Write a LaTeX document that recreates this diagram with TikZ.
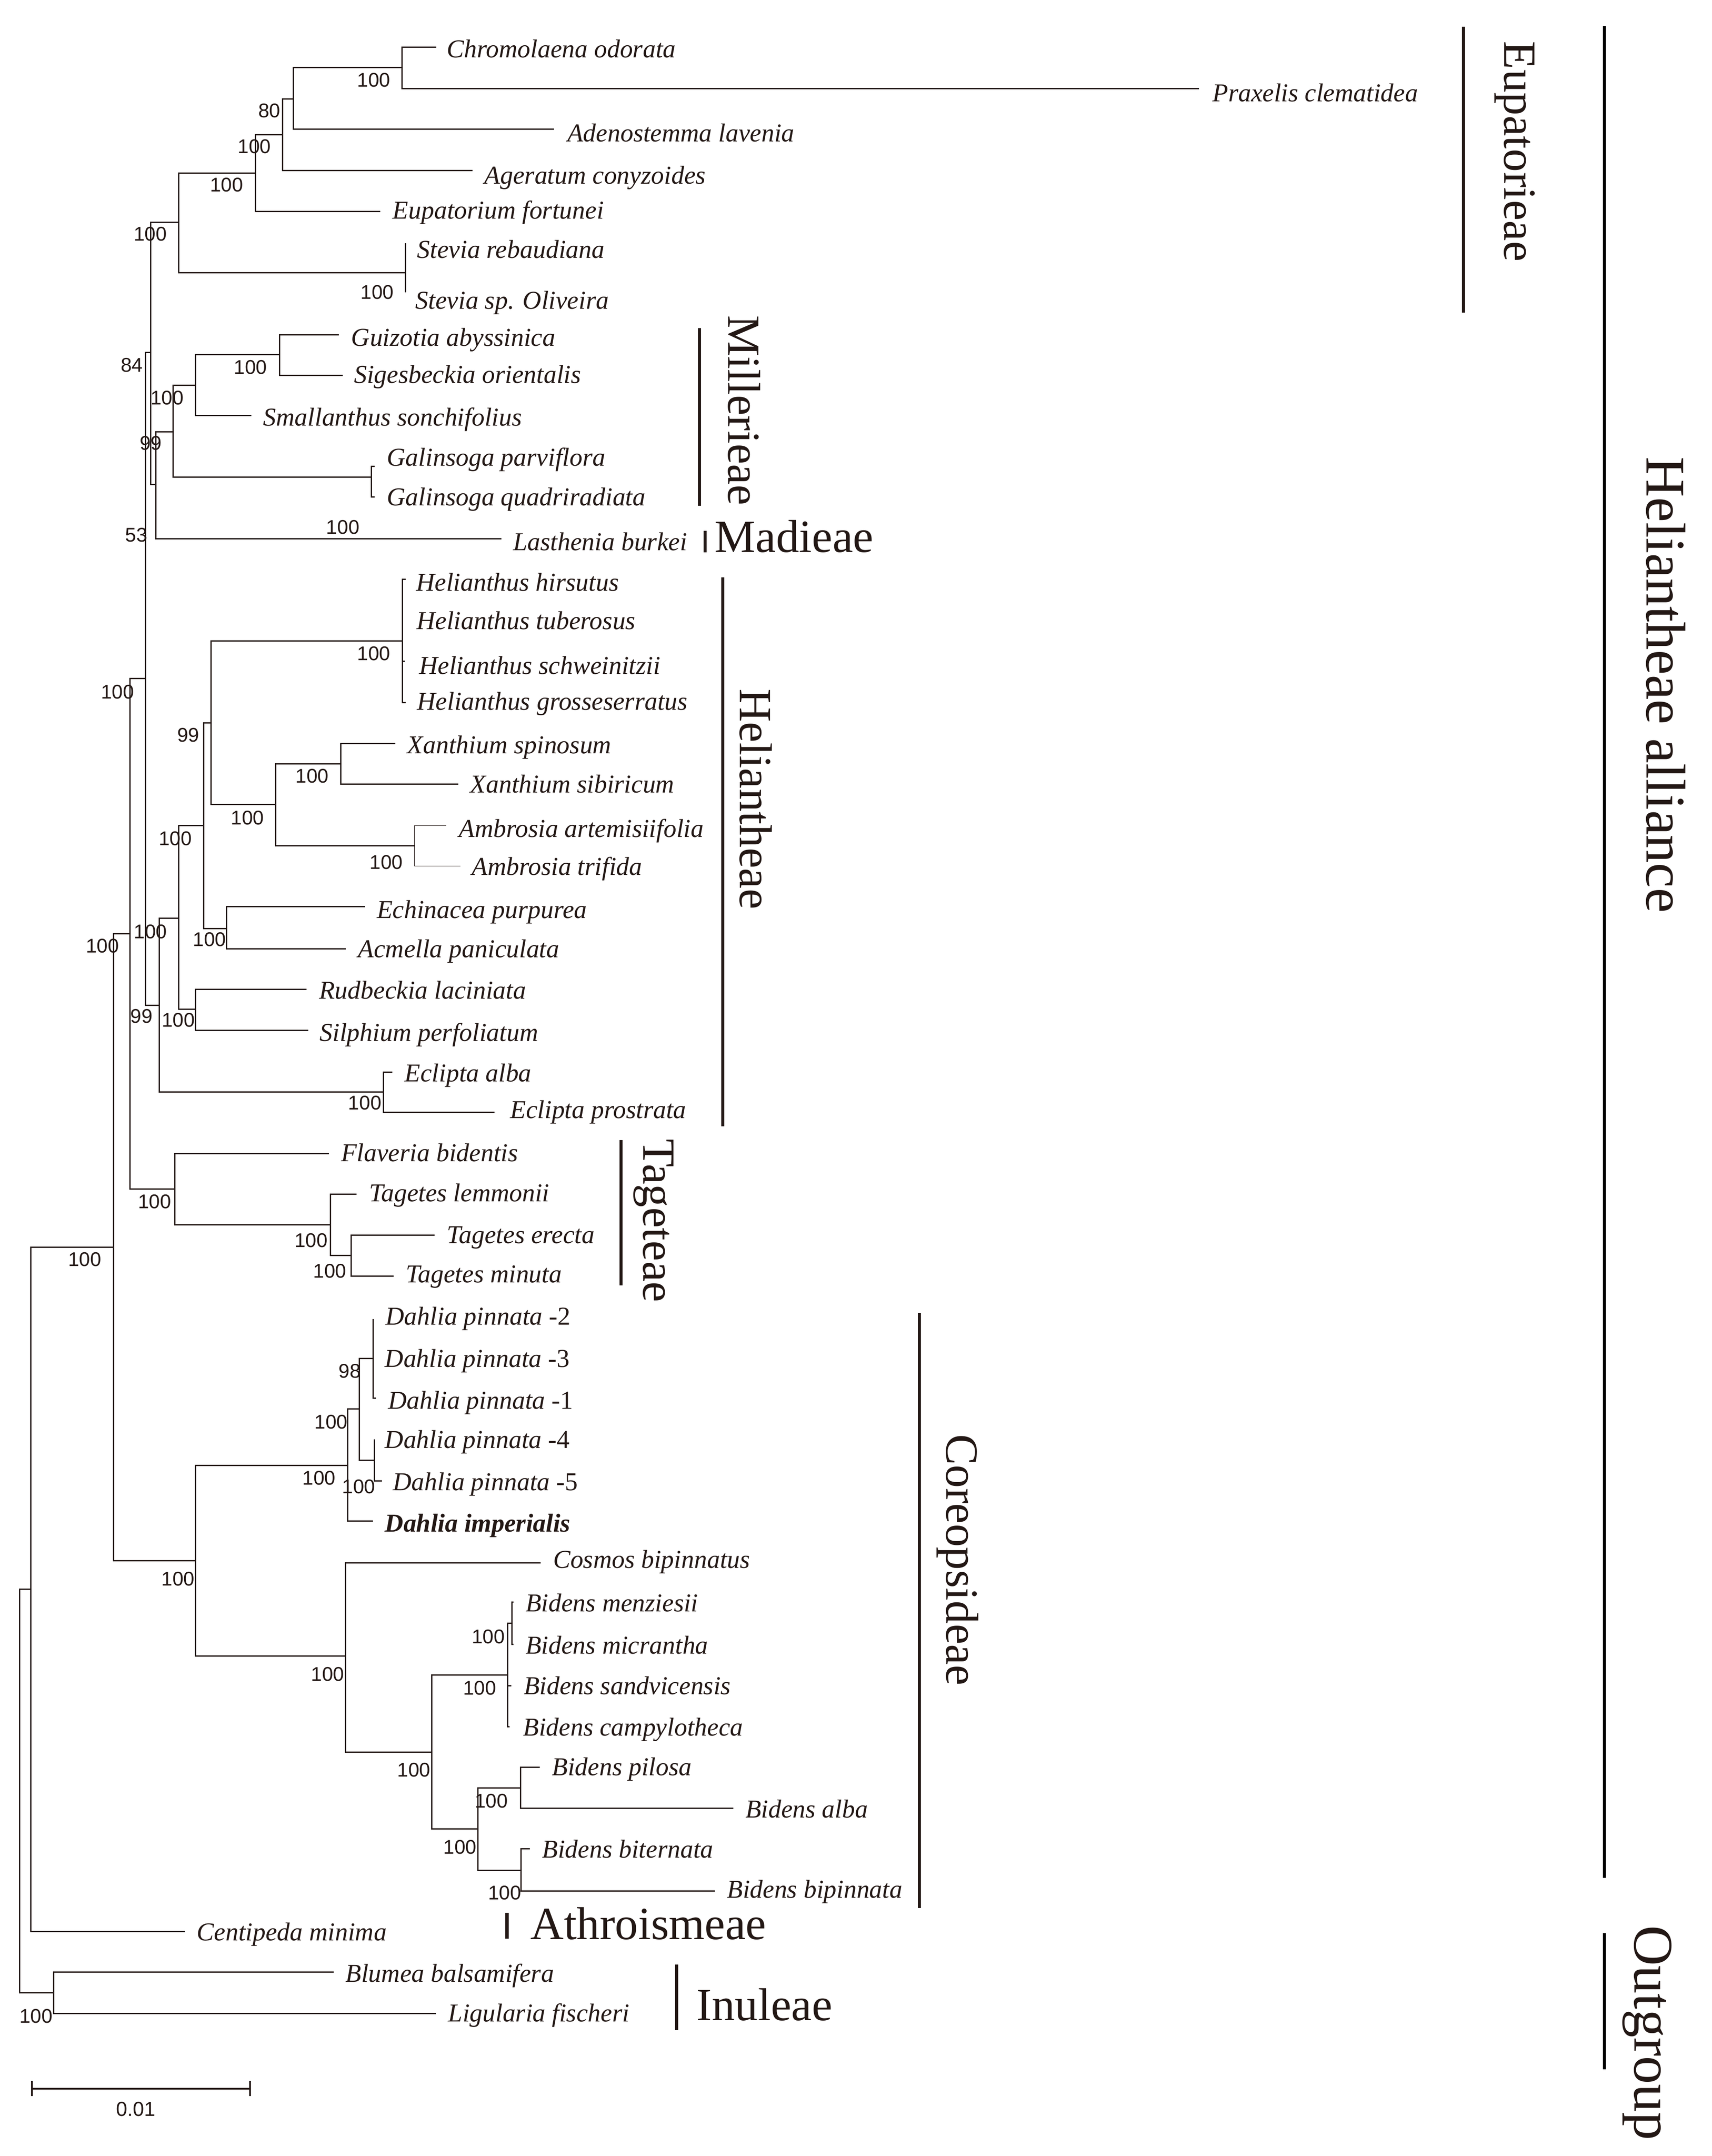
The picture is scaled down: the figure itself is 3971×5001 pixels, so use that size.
\documentclass[tikz,border=0pt]{standalone}
\usepackage{fontspec}
\setmainfont{Liberation Serif}
\setsansfont{Liberation Sans}
\definecolor{tc}{RGB}{35,24,21}
\begin{document}
\begin{tikzpicture}[x=0.1pt,y=-0.1pt,
  br/.style={line width=0.3pt, draw=tc},
  thinbr/.style={line width=0.15pt, draw=tc},
  bar/.style={line width=0.75pt, draw=tc},
  sbar/.style={line width=0.4pt, draw=tc},
  tip/.style={anchor=base west, inner sep=0pt, text=tc, font=\fontsize{5.98pt}{7pt}\selectfont\itshape},
  bs/.style={inner sep=0pt, text=tc, font=\sffamily\fontsize{4.6pt}{5pt}\selectfont},
  clade/.style={anchor=base west, inner sep=0pt, text=tc, font=\fontsize{10.7pt}{12pt}\selectfont},
  vclade/.style={clade, rotate=-90},
  bigclade/.style={anchor=base west, inner sep=0pt, text=tc, rotate=-90, font=\fontsize{13pt}{15pt}\selectfont}]
\useasboundingbox[fill=white] (0,0) rectangle (3971,5001);

% ---------- internal nodes ----------
\coordinate (root) at (46,4152);
\coordinate (X) at (72,3686);
\coordinate (Inu) at (124.5,4622);
\coordinate (HA) at (263.4,2892.7);
\coordinate (B) at (301.7,2166);
\coordinate (C) at (338,1574);
\coordinate (D) at (349.5,818);
\coordinate (Eup) at (414.5,516);
\coordinate (F) at (593,401.6);
\coordinate (G80) at (655.6,312.5);
\coordinate (A) at (680.5,229.6);
\coordinate (CP) at (933,156.5);
\coordinate (Stev) at (941,632.6);
\coordinate (E) at (362,1123.4);
\coordinate (Mill) at (402,1001.5);
\coordinate (S) at (453.4,894);
\coordinate (G) at (648.6,822.4);
\coordinate (Gal) at (862,1107);
\coordinate (H4) at (370,2332);
\coordinate (H3) at (414.5,2129.5);
\coordinate (H2) at (473,1915);
\coordinate (H1) at (490,1676.8);
\coordinate (Hel) at (934,1486.6);
\coordinate (XA) at (640,1866);
\coordinate (Xan) at (791,1771.4);
\coordinate (Amb) at (962,1961.6);
\coordinate (EA) at (525.5,2153.6);
\coordinate (RS) at (453.4,2341);
\coordinate (Ecl) at (889.7,2533);
\coordinate (Tag) at (406,2758.5);
\coordinate (T1) at (767,2841);
\coordinate (T2) at (815,2912.5);
\coordinate (Co) at (454,3620.5);
\coordinate (D0) at (807,3399);
\coordinate (D1) at (833.5,3268);
\coordinate (D2) at (865.4,3151);
\coordinate (D3) at (868.6,3387.5);
\coordinate (K) at (801.7,3841);
\coordinate (L) at (1001.7,4064);
\coordinate (M) at (1177.8,3885.7);
\coordinate (M2) at (1187.7,3765);
\coordinate (N) at (1109,4242.6);
\coordinate (P) at (1208,4146.8);
\coordinate (Q) at (1209,4338.4);

% ---------- tip ends ----------
\coordinate (tChrom) at (1012,109.4);
\coordinate (tPrax) at (2782,205.6);
\coordinate (tAden) at (1285.6,300);
\coordinate (tAger) at (1096.5,395.5);
\coordinate (tEupf) at (882,490.8);
\coordinate (tSteR) at (941,563.8);
\coordinate (tSteO) at (941,678.2);
\coordinate (tGuiz) at (786,777);
\coordinate (tSige) at (795,870.5);
\coordinate (tSmal) at (583.5,964);
\coordinate (tGalP) at (869,1082);
\coordinate (tGalQ) at (869,1152.4);
\coordinate (tLast) at (1163.7,1249.4);
\coordinate (tHelH) at (941,1343.8);
\coordinate (tHelT) at (934,1442);
\coordinate (tHelS) at (939,1534);
\coordinate (tHelG) at (941,1629.5);
\coordinate (tXanSp) at (917,1725);
\coordinate (tXanSi) at (1063,1818.8);
\coordinate (tAmbA) at (1035,1915);
\coordinate (tAmbT) at (1068,2009);
\coordinate (tEchi) at (847,2102.7);
\coordinate (tAcme) at (802,2201);
\coordinate (tRudb) at (711,2294.6);
\coordinate (tSilp) at (715.6,2390);
\coordinate (tEclA) at (910,2486.6);
\coordinate (tEclP) at (1147,2580);
\coordinate (tFlav) at (763,2676);
\coordinate (tTagL) at (827,2769.6);
\coordinate (tTagE) at (1008,2865);
\coordinate (tTagM) at (913,2960);
\coordinate (tDp2) at (865.4,3060);
\coordinate (tDp3) at (867,3151);
\coordinate (tDp1) at (872,3243);
\coordinate (tDp4) at (868.6,3339);
\coordinate (tDp5) at (886.5,3435);
\coordinate (tDimp) at (865.4,3528.6);
\coordinate (tCosm) at (1254,3625);
\coordinate (tBmen) at (1191,3716);
\coordinate (tBmic) at (1191,3814);
\coordinate (tBsan) at (1186,3910);
\coordinate (tBcam) at (1182,4005);
\coordinate (tBpil) at (1252,4099);
\coordinate (tBalb) at (1701,4194.7);
\coordinate (tBbit) at (1229,4288.6);
\coordinate (tBbip) at (1658,4386);
\coordinate (tCent) at (428.6,4480);
\coordinate (tBlum) at (774,4574.6);
\coordinate (tLigu) at (1011,4670);

% ---------- branches ----------
\foreach \p/\c in {root/X, root/Inu, X/HA, X/tCent, Inu/tBlum, Inu/tLigu,
  HA/B, HA/Co, B/C, B/Tag, C/D, C/H4, D/Eup, D/E,
  Eup/F, Eup/Stev, F/G80, F/tEupf, G80/A, G80/tAger, A/CP, A/tAden,
  CP/tChrom, CP/tPrax, Stev/tSteR, Stev/tSteO,
  E/Mill, E/tLast, Mill/S, Mill/Gal, S/G, S/tSmal, G/tGuiz, G/tSige,
  Gal/tGalP, Gal/tGalQ,
  H4/H3, H4/Ecl, H3/H2, H3/RS, H2/H1, H2/EA, H1/Hel, H1/XA, XA/Xan, XA/Amb,
  Hel/tHelH, Hel/tHelT, Hel/tHelS, Hel/tHelG, Xan/tXanSp, Xan/tXanSi,
  EA/tEchi, EA/tAcme, RS/tRudb, RS/tSilp, Ecl/tEclA, Ecl/tEclP,
  Tag/tFlav, Tag/T1, T1/tTagL, T1/T2, T2/tTagE, T2/tTagM,
  Co/D0, Co/K, D0/D1, D0/tDimp, D1/D2, D1/D3, D2/tDp2, D2/tDp3, D2/tDp1,
  D3/tDp4, D3/tDp5,
  K/tCosm, K/L, L/M, L/N, M/M2, M/tBsan, M/tBcam, M2/tBmen, M2/tBmic,
  N/P, N/Q, P/tBpil, P/tBalb, Q/tBbit, Q/tBbip}
  \draw[br] (\p) |- (\c);
\draw[thinbr] (Amb) |- (tAmbA);
\draw[thinbr] (Amb) |- (tAmbT);

% ---------- tip labels ----------
\node[tip] (lChrom) at (1035,134) {Chromolaena odorata};
\node[tip] (lPrax) at (2811,236) {Praxelis clematidea};
\node[tip] (lAden) at (1314.6,329) {Adenostemma lavenia};
\node[tip] (lAger) at (1122,427) {Ageratum conyzoides};
\node[tip] (lEupf) at (909,508) {Eupatorium fortunei};
\node[tip] (lSteR) at (966,598.7) {Stevia rebaudiana};
\node[tip] (lSteO) at (962,717) {Stevia sp. Oliveira};
\node[tip] (lGuiz) at (813,802.6) {Guizotia abyssinica};
\node[tip] (lSige) at (819.5,889) {Sigesbeckia orientalis};
\node[tip] (lSmal) at (609,988) {Smallanthus sonchifolius};
\node[tip] (lGalP) at (896,1080.5) {Galinsoga parviflora};
\node[tip] (lGalQ) at (896,1173) {Galinsoga quadriradiata};
\node[tip] (lLast) at (1188.6,1277) {Lasthenia burkei};
\node[tip] (lHelH) at (963.8,1370.5) {Helianthus hirsutus};
\node[tip] (lHelT) at (964.7,1460) {Helianthus tuberosus};
\node[tip] (lHelS) at (970.5,1564) {Helianthus schweinitzii};
\node[tip] (lHelG) at (966,1647) {Helianthus grosseserratus};
\node[tip] (lXanSp) at (943,1748) {Xanthium spinosum};
\node[tip] (lXanSi) at (1089,1839) {Xanthium sibiricum};
\node[tip] (lAmbA) at (1063,1942) {Ambrosia artemisiifolia};
\node[tip] (lAmbT) at (1093,2029.5) {Ambrosia trifida};
\node[tip] (lEchi) at (872.4,2129.5) {Echinacea purpurea};
\node[tip] (lAcme) at (829,2221) {Acmella paniculata};
\node[tip] (lRudb) at (738.5,2317) {Rudbeckia laciniata};
\node[tip] (lSilp) at (740,2415) {Silphium perfoliatum};
\node[tip] (lEclA) at (937,2509) {Eclipta alba};
\node[tip] (lEclP) at (1182,2594) {Eclipta prostrata};
\node[tip] (lFlav) at (789.5,2694) {Flaveria bidentis};
\node[tip] (lTagL) at (854.6,2787.5) {Tagetes lemmonii};
\node[tip] (lTagE) at (1035,2884) {Tagetes erecta};
\node[tip] (lTagM) at (940,2975) {Tagetes minuta};
\node[tip] (lDp2) at (893,3073) {Dahlia pinnata \upshape -2};
\node[tip] (lDp3) at (891,3171) {Dahlia pinnata \upshape -3};
\node[tip] (lDp1) at (899,3268) {Dahlia pinnata \upshape -1};
\node[tip] (lDp4) at (891,3359) {Dahlia pinnata \upshape -4};
\node[tip] (lDp5) at (910,3457) {Dahlia pinnata \upshape -5};
\node[tip, font=\fontsize{5.98pt}{7pt}\selectfont\bfseries\itshape] (lDimp) at (891,3553.6) {Dahlia imperialis};
\node[tip] (lCosm) at (1281.4,3637.5) {Cosmos bipinnatus};
\node[tip] (lBmen) at (1217.6,3738) {Bidens menziesii};
\node[tip] (lBmic) at (1217.6,3836.6) {Bidens micrantha};
\node[tip] (lBsan) at (1213.4,3930) {Bidens sandvicensis};
\node[tip] (lBcam) at (1212,4026) {Bidens campylotheca};
\node[tip] (lBpil) at (1279,4118) {Bidens pilosa};
\node[tip] (lBalb) at (1727.6,4215.8) {Bidens alba};
\node[tip] (lBbit) at (1256,4309.6) {Bidens biternata};
\node[tip] (lBbip) at (1684.8,4402) {Bidens bipinnata};
\node[tip] (lCent) at (455,4501) {Centipeda minima};
\node[tip] (lBlum) at (800,4597) {Blumea balsamifera};
\node[tip] (lLigu) at (1038,4689.5) {Ligularia fischeri};

% ---------- bootstrap values ----------
\node[bs] (s1) at (867,186) {100};
\node[bs] (s2) at (625,257) {80};
\node[bs] (s3) at (590,340) {100};
\node[bs] (s4) at (525.5,428.6) {100};
\node[bs] (s5) at (348.5,543) {100};
\node[bs] (s6) at (875,678) {100};
\node[bs] (s7) at (581,851.5) {100};
\node[bs] (s8) at (306,847) {84};
\node[bs] (s9) at (387.5,922.7) {100};
\node[bs] (s10) at (350,1028) {99};
\node[bs] (s11) at (316.6,1241) {53};
\node[bs] (s12) at (795.5,1223) {100};
\node[bs] (s13) at (867,1516) {100};
\node[bs] (s14) at (574,1897) {100};
\node[bs] (s15) at (724,1800) {100};
\node[bs] (s16) at (896,2000) {100};
\node[bs] (s17) at (437,1705) {99};
\node[bs] (s18) at (486,2178.6) {100};
\node[bs] (s19) at (406.5,1944.6) {100};
\node[bs] (s20) at (413.5,2366) {100};
\node[bs] (s21) at (349,2160.7) {100};
\node[bs] (s22) at (846.5,2558) {100};
\node[bs] (s23) at (328.5,2357) {99};
\node[bs] (s24) at (272.5,1604.5) {100};
\node[bs] (s25) at (237.5,2193.8) {100};
\node[bs] (s26) at (196.5,2921) {100};
\node[bs] (s27) at (358.5,2787.5) {100};
\node[bs] (s28) at (721.6,2877) {100};
\node[bs] (s29) at (765,2948) {100};
\node[bs] (s30) at (413,3662) {100};
\node[bs] (s31) at (740,3428.6) {100};
\node[bs] (s32) at (768,3298) {100};
\node[bs] (s33) at (811.5,3180) {98};
\node[bs] (s34) at (832,3448) {100};
\node[bs] (s35) at (760,3883) {100};
\node[bs] (s36) at (1112.7,3915) {100};
\node[bs] (s37) at (1133,3796) {100};
\node[bs] (s38) at (960,4105) {100};
\node[bs] (s39) at (1067,4284) {100};
\node[bs] (s40) at (1140,4177.5) {100};
\node[bs] (s41) at (1171,4390.7) {100};
\node[bs] (s42) at (83.5,4677) {100};

% ---------- clade bars ----------
\coordinate (eupA) at (3395,62);    \coordinate (eupB) at (3395,725);
\coordinate (haA) at (3722,60);     \coordinate (haB) at (3722,4356);
\coordinate (ogA) at (3722,4484);   \coordinate (ogB) at (3722,4800);
\coordinate (milA) at (1623,761);   \coordinate (milB) at (1623,1173);
\coordinate (madA) at (1636,1231);  \coordinate (madB) at (1636,1281);
\coordinate (helA) at (1677,1339);  \coordinate (helB) at (1677,2612);
\coordinate (tagA) at (1440.6,2645); \coordinate (tagB) at (1440.6,2982);
\coordinate (corA) at (2133,3046);  \coordinate (corB) at (2133,4425.5);
\coordinate (athA) at (1176,4437);  \coordinate (athB) at (1176,4497);
\coordinate (inuA) at (1569.6,4557); \coordinate (inuB) at (1569.6,4708.6);
\foreach \a/\b in {eupA/eupB, milA/milB, madA/madB, helA/helB, tagA/tagB, corA/corB, athA/athB, inuA/inuB}
  \draw[bar] (\a) -- (\b);
\draw[bar, draw=black] (haA) -- (haB);
\draw[bar, draw=black] (ogA) -- (ogB);

% ---------- clade names ----------
\node[vclade] (nEup) at (3490,94) {Eupatorieae};
\node[vclade] (nMil) at (1690,730) {Millerieae};
\node[clade] (nMad) at (1656,1281) {Madieae};
\node[vclade] (nHel) at (1717,1596) {Heliantheae};
\node[vclade] (nTag) at (1493,2640) {Tageteae};
\node[vclade] (nCor) at (2196,3325) {Coreopsideae};
\node[clade] (nAth) at (1229,4498) {Athroismeae};
\node[clade] (nInu) at (1614,4686) {Inuleae};
\node[bigclade] (nHA) at (3820,1058) {Heliantheae alliance};
\node[bigclade] (nOG) at (3792,4464) {Outgroup};

% ---------- scale bar ----------
\coordinate (scA) at (73.7,4844.6);
\coordinate (scB) at (580,4844.6);
\coordinate (scA1) at (73.7,4827);
\coordinate (scA2) at (73.7,4862);
\coordinate (scB1) at (580,4827);
\coordinate (scB2) at (580,4862);
\draw[sbar] (scA) -- (scB);
\draw[sbar] (scA1) -- (scA2);
\draw[sbar] (scB1) -- (scB2);
\node[bs, font=\sffamily\fontsize{4.7pt}{5pt}\selectfont] (scL) at (315,4892.5) {0.01};
\end{tikzpicture}
\end{document}
